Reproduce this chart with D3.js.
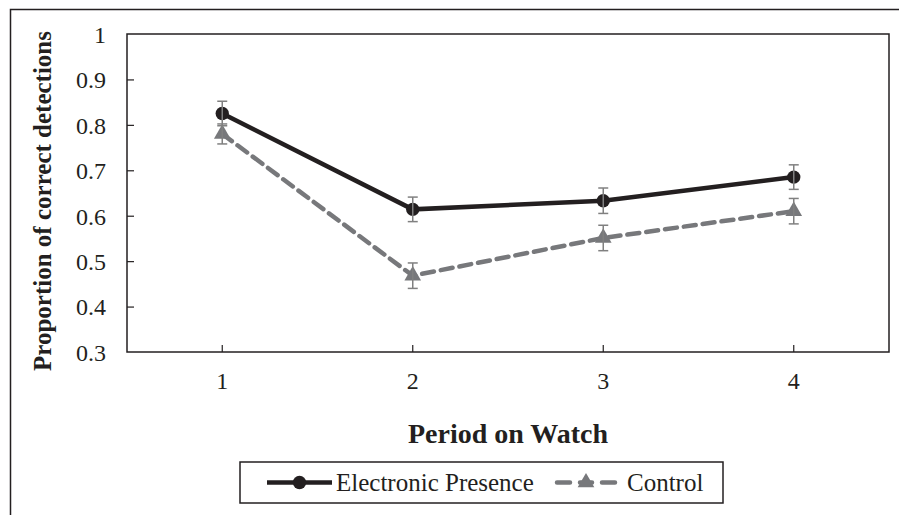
<!DOCTYPE html>
<html>
<head>
<meta charset="utf-8">
<script src="https://cdn.jsdelivr.net/npm/d3@7"></script>
<style>
  body { margin: 0; background: #fff; }
  svg text { font-family: "Liberation Serif", "Times New Roman", Times, serif; fill: #231f20; }
</style>
</head>
<body>
<div id="chart"></div>
<script>
// data
var periods = ["1", "2", "3", "4"];
var presenceValues = [0.825, 0.614, 0.633, 0.685];
var presenceErrors = [0.027, 0.027, 0.028, 0.027];
var controlValues = [0.78, 0.468, 0.551, 0.61];
var controlErrors = [0.022, 0.028, 0.028, 0.028];
var yTicks = [0.3, 0.4, 0.5, 0.6, 0.7, 0.8, 0.9, 1];
var seriesNames = ["Electronic Presence", "Control"];

var width = 899,
    height = 515,
    padding = {top: 34, right: 10, bottom: 163, left: 127};

var serif = "'Liberation Serif', 'Times New Roman', Times, serif";
var dark = "#231f20",
    grey = "#77787b";

var svg = d3.select("#chart")
    .append("svg")
    .attr("width", width)
    .attr("height", height);

// outer frame (only top and left edges show in the picture)
svg.append("path")
    .attr("d", "M10.5,515 V9.5 H899")
    .attr("fill", "none")
    .attr("stroke", dark)
    .attr("stroke-width", 1.5);

// scales
var xScale = d3.scaleBand()
    .domain(periods)
    .range([padding.left, width - padding.right]);
var yScale = d3.scaleLinear()
    .domain([0.3, 1])
    .range([height - padding.bottom, padding.top]);
var xMid = function(d) { return xScale(d) + xScale.bandwidth() / 2; };

// plot box
svg.append("rect")
    .attr("x", padding.left)
    .attr("y", padding.top)
    .attr("width", width - padding.right - padding.left)
    .attr("height", height - padding.bottom - padding.top)
    .attr("fill", "none")
    .attr("stroke", dark)
    .attr("stroke-width", 1.5);

// y axis, ticks pointing inwards
var yAxis = d3.axisRight(yScale)
    .tickValues(yTicks)
    .tickSize(7)
    .tickFormat(function(d) { return d === 1 ? "1" : d3.format(".1f")(d); });
var gy = svg.append("g")
    .attr("transform", "translate(" + padding.left + ",0)")
    .call(yAxis)
    .attr("font-family", serif);
gy.select(".domain").remove();
gy.selectAll(".tick line")
    .attr("stroke", dark)
    .attr("stroke-width", 1.2)
    .attr("opacity", function(d) { return (d === 0.3 || d === 1) ? 0 : 1; });
gy.selectAll(".tick text")
    .attr("x", -21)
    .attr("dy", "0.35em")
    .attr("text-anchor", "end")
    .attr("font-size", "24px")
    .attr("fill", dark);

// x axis, ticks pointing inwards
var xAxis = d3.axisTop(xScale).tickSize(7);
var gx = svg.append("g")
    .attr("transform", "translate(0," + (height - padding.bottom) + ")")
    .call(xAxis)
    .attr("font-family", serif);
gx.select(".domain").remove();
gx.selectAll(".tick line")
    .attr("stroke", dark)
    .attr("stroke-width", 1.2);
gx.selectAll(".tick text")
    .attr("y", 37)
    .attr("dy", 0)
    .attr("font-size", "24px")
    .attr("fill", dark);

// axis titles
svg.append("text")
    .attr("x", (padding.left + width - padding.right) / 2)
    .attr("y", 443)
    .attr("text-anchor", "middle")
    .attr("font-size", "28px")
    .attr("font-weight", "bold")
    .text("Period on Watch");

svg.append("text")
    .attr("transform", "translate(51,201) rotate(-90)")
    .attr("text-anchor", "middle")
    .attr("font-size", "25px")
    .attr("font-weight", "bold")
    .text("Proportion of correct detections");

// series
var series = [
    {name: seriesNames[0], values: presenceValues, errors: presenceErrors, color: dark, dash: null, shape: d3.symbolCircle, size: 140},
    {name: seriesNames[1], values: controlValues, errors: controlErrors, color: grey, dash: "12,7", shape: d3.symbolTriangle, size: 120}
];

var line = d3.line()
    .x(function(d, i) { return xMid(periods[i]); })
    .y(function(d) { return yScale(d); });

series.forEach(function(s) {
    svg.append("path")
        .datum(s.values)
        .attr("d", line)
        .attr("fill", "none")
        .attr("stroke", s.color)
        .attr("stroke-width", 4.5)
        .attr("stroke-dasharray", s.dash)
        .attr("stroke-linecap", s.dash ? "round" : "butt");
});

// markers, then error bars on top
series.forEach(function(s) {
    svg.selectAll(null)
        .data(s.values)
        .enter().append("path")
        .attr("d", d3.symbol().type(s.shape).size(s.size))
        .attr("transform", function(d, i) {
            return "translate(" + xMid(periods[i]) + "," + yScale(d) + ")";
        })
        .attr("fill", s.color);
});

series.forEach(function(s) {
    var bars = svg.selectAll(null)
        .data(s.values)
        .enter().append("g")
        .attr("stroke", "#808080")
        .attr("stroke-width", 1.5);
    bars.append("line")
        .attr("x1", function(d, i) { return xMid(periods[i]); })
        .attr("x2", function(d, i) { return xMid(periods[i]); })
        .attr("y1", function(d, i) { return yScale(d + s.errors[i]); })
        .attr("y2", function(d, i) { return yScale(d - s.errors[i]); });
    [1, -1].forEach(function(sign) {
        bars.append("line")
            .attr("x1", function(d, i) { return xMid(periods[i]) - 5; })
            .attr("x2", function(d, i) { return xMid(periods[i]) + 5; })
            .attr("y1", function(d, i) { return yScale(d + sign * s.errors[i]); })
            .attr("y2", function(d, i) { return yScale(d + sign * s.errors[i]); });
    });
});

// legend
var legend = svg.append("g");
legend.append("rect")
    .attr("x", 240)
    .attr("y", 462)
    .attr("width", 483)
    .attr("height", 41)
    .attr("fill", "#fff")
    .attr("stroke", dark)
    .attr("stroke-width", 1.5);

var legendItems = [
    {x: 267, len: 65, textX: 336},
    {x: 557, len: 58, textX: 627}
];
series.forEach(function(s, i) {
    var it = legendItems[i];
    var y = 482.5;
    legend.append("line")
        .attr("x1", it.x)
        .attr("x2", it.x + it.len)
        .attr("y1", y)
        .attr("y2", y)
        .attr("stroke", s.color)
        .attr("stroke-width", 4.5)
        .attr("stroke-dasharray", s.dash ? "13,10,12,10,13" : null)
        .attr("stroke-linecap", s.dash ? "round" : "butt");
    legend.append("path")
        .attr("d", d3.symbol().type(s.shape).size(s.size))
        .attr("transform", "translate(" + (it.x + it.len / 2) + "," + y + ")")
        .attr("fill", s.color);
    legend.append("text")
        .attr("x", it.textX)
        .attr("y", y)
        .attr("dy", "0.35em")
        .attr("font-size", "25px")
        .text(s.name);
});
</script>
</body>
</html>
